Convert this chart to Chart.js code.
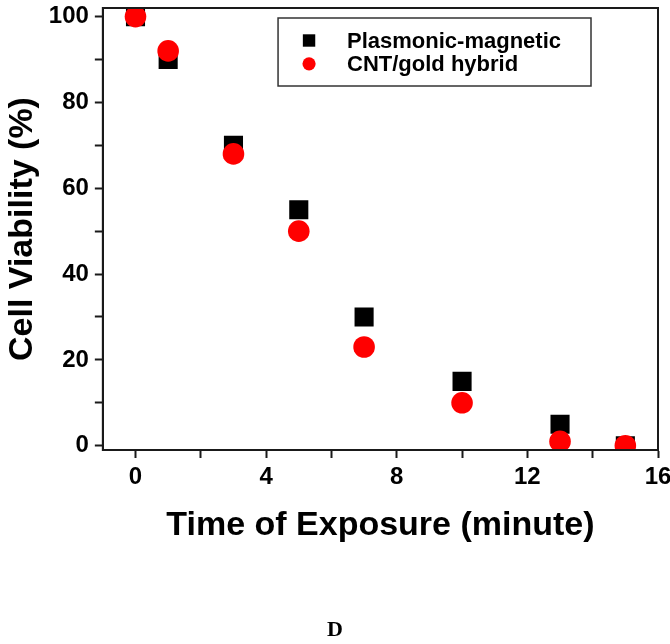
<!DOCTYPE html>
<html>
<head>
<meta charset="utf-8">
<script src="https://cdn.jsdelivr.net/npm/chart.js@4"></script>
<style>
  body { margin: 0; background: #fff; }
  #wrap { width: 670px; height: 644px; }
</style>
</head>
<body>
<div id="wrap"><canvas id="viabilityChart"></canvas></div>
<script>
const exposureTimes = [0, 1, 3, 5, 7, 10, 13, 15];
const plasmonicValues = [100, 90, 70, 55, 30, 15, 5, 0];
const cntGoldValues = [100, 92, 68, 50, 23, 10, 1, 0];
const seriesNames = ['Plasmonic-magnetic', 'CNT/gold hybrid'];
const xTickValues = [0, 2, 4, 6, 8, 10, 12, 14, 16];
const xTickLabels = ['0', '', '4', '', '8', '', '12', '', '16'];
const yTickValues = [0, 10, 20, 30, 40, 50, 60, 70, 80, 90, 100];
const yTickLabels = ['0', '', '20', '', '40', '', '60', '', '80', '', '100'];

const FONT = '"Liberation Sans", Arial, Helvetica, sans-serif';
const INK = '#1a1a1a';

function toPoints(xs, ys) {
  return xs.map((x, i) => ({ x: x, y: ys[i] }));
}

// full box around the plot area
const frame = {
  id: 'frame',
  afterDatasetsDraw(chart) {
    const { ctx, chartArea } = chart;
    ctx.save();
    ctx.strokeStyle = INK;
    ctx.lineWidth = 2;
    ctx.strokeRect(chartArea.left, chartArea.top, chartArea.right - chartArea.left, chartArea.bottom - chartArea.top);
    ctx.restore();
  }
};

// boxed legend inside the plot, top right
const boxLegend = {
  id: 'boxLegend',
  afterDraw(chart) {
    const { ctx, chartArea } = chart;
    const sets = [chart.data.datasets[0], chart.data.datasets[1]];
    ctx.save();
    ctx.font = 'bold 22px ' + FONT;
    const textW = Math.max(...sets.map(d => ctx.measureText(d.label).width));
    const w = 69 + textW + 30;
    const h = 68;
    const x = chartArea.right - 67 - w;
    const y = chartArea.top + 10;
    ctx.fillStyle = '#fff';
    ctx.fillRect(x, y, w, h);
    ctx.strokeStyle = '#333';
    ctx.lineWidth = 1.5;
    ctx.strokeRect(x, y, w, h);

    sets.forEach((d, i) => {
      const cy = y + 22.5 + i * 23.3;
      ctx.fillStyle = d.backgroundColor;
      if (d.pointStyle === 'rect') {
        ctx.fillRect(x + 31 - 6.2, cy - 6.2, 12.4, 12.4);
      } else {
        ctx.beginPath();
        ctx.arc(x + 31, cy, 6.6, 0, Math.PI * 2);
        ctx.fill();
      }
      ctx.fillStyle = '#000';
      ctx.textBaseline = 'middle';
      ctx.textAlign = 'left';
      ctx.fillText(d.label, x + 69, cy + 1);
    });
    ctx.restore();
  }
};

function buildChart() {
  const ctx = document.getElementById('viabilityChart').getContext('2d');
  new Chart(ctx, {
    type: 'scatter',
    data: {
      datasets: [{
        label: seriesNames[0],
        data: toPoints(exposureTimes, plasmonicValues),
        pointStyle: 'rect',
        pointRadius: 13.5,
        backgroundColor: '#000000',
        borderWidth: 0,
        order: 2
      }, {
        label: seriesNames[1],
        data: toPoints(exposureTimes, cntGoldValues),
        pointStyle: 'circle',
        pointRadius: 10.8,
        backgroundColor: '#ff0000',
        borderWidth: 0,
        order: 1
      }]
    },
    options: {
      responsive: true,
      maintainAspectRatio: false,
      animation: false,
      layout: { autoPadding: false, padding: { top: 8, left: 0, right: 0, bottom: 0 } },
      plugins: {
        legend: { display: false },
        tooltip: { enabled: false },
        title: {
          display: true,
          text: 'D',
          position: 'bottom',
          color: '#000',
          font: { family: '"Liberation Serif", "Times New Roman", serif', weight: 'bold', size: 22 },
          padding: { top: 72, bottom: 0 }
        }
      },
      scales: {
        x: {
          type: 'linear',
          min: -1,
          max: 16,
          afterBuildTicks: (scale) => {
            scale.ticks = xTickValues.map(v => ({ value: v }));
          },
          afterFit: (scale) => {
            scale.paddingRight = 12;
          },
          ticks: {
            color: '#000',
            padding: 5,
            maxRotation: 0,
            font: { family: FONT, weight: 'bold', size: 24 },
            callback: (value, index) => xTickLabels[index]
          },
          grid: { drawOnChartArea: false, drawTicks: true, tickLength: 8, tickWidth: 2, tickColor: INK },
          border: { display: true, width: 2, color: INK },
          title: {
            display: true,
            text: 'Time of Exposure (minute)',
            color: '#000',
            font: { family: FONT, weight: 'bold', size: 34 },
            padding: { top: 8, bottom: 0 }
          }
        },
        y: {
          type: 'linear',
          min: -1,
          max: 102,
          afterBuildTicks: (scale) => {
            scale.ticks = yTickValues.map(v => ({ value: v }));
          },
          afterFit: (scale) => {
            scale.paddingTop = 0;
            scale.paddingBottom = 0;
          },
          ticks: {
            color: '#000',
            padding: 6,
            font: { family: FONT, weight: 'bold', size: 24 },
            callback: (value, index) => yTickLabels[index]
          },
          grid: { drawOnChartArea: false, drawTicks: true, tickLength: 8, tickWidth: 2, tickColor: INK },
          border: { display: true, width: 2, color: INK },
          title: {
            display: true,
            text: 'Cell Viability (%)',
            color: '#000',
            font: { family: FONT, weight: 'bold', size: 34 },
            padding: { top: 2, bottom: 0 }
          }
        }
      }
    },
    plugins: [frame, boxLegend]
  });
}

window.onload = function () {
  buildChart();
};
</script>
</body>
</html>
